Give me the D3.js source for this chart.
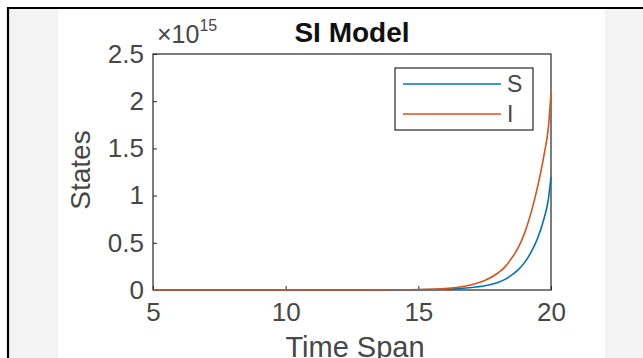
<!DOCTYPE html>
<html>
<head>
<meta charset="utf-8">
<script src="https://cdn.jsdelivr.net/npm/d3@7"></script>
<style>
  body { margin: 0; background: #fff; }
  svg { display: block; font-family: "Liberation Sans", Arial, Helvetica, sans-serif; }
</style>
</head>
<body>
<div id="chart"></div>
<script>
// values are in units of 10^15
const timeSpan = [5, 6, 7, 8, 9, 10, 11, 12, 13, 14, 15, 16, 16.5, 17, 17.5, 18, 18.25, 18.5, 18.75, 19, 19.25, 19.5, 19.75, 19.9, 20];
const sValues  = [0, 0, 0, 0, 0, 0, 0, 0, 0, 0.001, 0.003, 0.008, 0.015, 0.026, 0.045, 0.08, 0.11, 0.155, 0.21, 0.29, 0.4, 0.55, 0.77, 0.96, 1.2];
const iValues  = [0, 0, 0, 0, 0, 0, 0, 0, 0, 0.002, 0.005, 0.015, 0.03, 0.055, 0.1, 0.18, 0.24, 0.33, 0.44, 0.6, 0.82, 1.1, 1.45, 1.72, 2.08];
const xTicks = [5, 10, 15, 20];
const yTicks = [0, 0.5, 1, 1.5, 2, 2.5];
const exponent = 15;
const seriesNames = ["S", "I"];
const seriesColors = ["#0072BD", "#D95319"];

const W = 643, H = 358;
const margin = { top: 54, right: 92, bottom: 68, left: 153 };
const width = W - margin.left - margin.right;
const height = H - margin.top - margin.bottom;

const svg = d3.select("#chart").append("svg")
    .attr("width", W)
    .attr("height", H);

// page frame and grey side panels
svg.append("rect").attr("x", 9).attr("y", 9).attr("width", W - 9).attr("height", H - 9).attr("fill", "#f3f3f3");
svg.append("rect").attr("x", 58).attr("y", 9).attr("width", 547).attr("height", H - 9).attr("fill", "#ffffff");
svg.append("line").attr("x1", 7).attr("x2", W).attr("y1", 8).attr("y2", 8).attr("stroke", "#000").attr("stroke-width", 2.2);
svg.append("line").attr("x1", 8).attr("x2", 8).attr("y1", 7).attr("y2", H).attr("stroke", "#000").attr("stroke-width", 2.2);

const g = svg.append("g").attr("transform", `translate(${margin.left},${margin.top})`);

const x = d3.scaleLinear().domain([5, 20]).range([0, width]);
const y = d3.scaleLinear().domain([0, 2.5]).range([height, 0]);

const xAxis = g.append("g")
    .attr("transform", `translate(0,${height})`)
    .call(d3.axisBottom(x).tickValues(xTicks).tickSizeInner(-4).tickSizeOuter(0).tickPadding(13).tickFormat(d => String(d)));

const yAxis = g.append("g")
    .call(d3.axisLeft(y).tickValues(yTicks).tickSizeInner(-4).tickSizeOuter(0).tickPadding(9).tickFormat(d => String(d)));

[xAxis, yAxis].forEach(a => {
    a.select(".domain").remove();
    a.selectAll(".tick line").attr("stroke", "#262626");
    a.selectAll(".tick text")
        .attr("fill", "#474747")
        .style("font-size", "26px")
        .style("font-family", "'Liberation Sans', Arial, sans-serif");
});

// box
g.append("rect")
    .attr("width", width).attr("height", height)
    .attr("fill", "none").attr("stroke", "#262626").attr("stroke-width", 1.2);

// curves
const line = d3.line()
    .x((d, i) => x(timeSpan[i]))
    .y(d => y(d))
    .curve(d3.curveMonotoneX);

[sValues, iValues].forEach((vals, k) => {
    g.append("path")
        .datum(vals)
        .attr("fill", "none")
        .attr("stroke", seriesColors[k])
        .attr("stroke-width", 1.6)
        .attr("d", line);
});

// exponent label
const expText = svg.append("text")
    .attr("x", 157).attr("y", 43)
    .attr("fill", "#474747")
    .style("font-size", "25px");
expText.append("tspan").text("\u00d710");
expText.append("tspan").attr("dy", -12).style("font-size", "16px").text(exponent);

// title
svg.append("text")
    .attr("x", margin.left + width / 2).attr("y", 42)
    .attr("text-anchor", "middle")
    .attr("fill", "#111")
    .style("font-size", "28px")
    .style("font-weight", "bold")
    .text("SI Model");

// axis labels
svg.append("text")
    .attr("x", margin.left + width / 2 + 3).attr("y", 357)
    .attr("text-anchor", "middle")
    .attr("fill", "#474747")
    .style("font-size", "29px")
    .text("Time Span");

svg.append("text")
    .attr("transform", `translate(90,170) rotate(-90)`)
    .attr("text-anchor", "middle")
    .attr("fill", "#474747")
    .style("font-size", "28px")
    .text("States");

// legend
const legend = svg.append("g").attr("transform", "translate(395,68)");
legend.append("rect")
    .attr("width", 138).attr("height", 62)
    .attr("fill", "#fff").attr("stroke", "#262626").attr("stroke-width", 1.2);
seriesNames.forEach((name, i) => {
    const row = legend.append("g").attr("transform", `translate(0,${16 + i * 30})`);
    row.append("line")
        .attr("x1", 8).attr("x2", 106)
        .attr("stroke", seriesColors[i]).attr("stroke-width", 1.6);
    row.append("text")
        .attr("x", 112).attr("y", 8)
        .attr("fill", "#474747")
        .style("font-size", "23px")
        .text(name);
});
</script>
</body>
</html>
